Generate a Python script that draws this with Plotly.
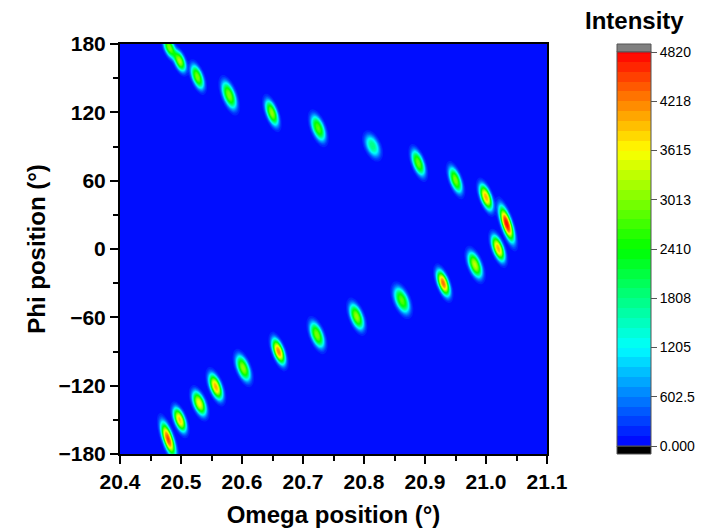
import numpy as np
import plotly.graph_objects as go

# Peak list (omega in deg, phi in deg, intensity in counts)
peak_omega = [20.481, 20.498, 20.527, 20.579, 20.649, 20.725, 20.814, 20.889, 20.950, 21.000,
              21.034, 21.020, 20.982, 20.930, 20.862, 20.788, 20.723, 20.660, 20.602, 20.557,
              20.530, 20.498, 20.479]
peak_phi = [177.0, 165.0, 151.0, 135.0, 119.5, 106.0, 90.5, 75.5, 60.5, 45.5,
            22.0, 0.5, -14.0, -30.0, -45.0, -59.5, -75.5, -90.0, -104.5, -121.0,
            -135.5, -150.0, -167.0]
peak_height = [3000, 3200, 3000, 3000, 3100, 2800, 1800, 2900, 3000, 4000,
               4800, 4000, 3300, 4300, 2800, 3100, 3000, 4200, 3100, 4000,
               3600, 3900, 4500]
peak_phi_width = [6.5, 6.5, 7.5, 8.5, 8.0, 8.0, 7.0, 8.0, 8.0, 8.0,
                  11.0, 8.0, 8.0, 8.0, 8.0, 8.0, 8.0, 8.0, 8.0, 8.0,
                  7.5, 7.5, 10.5]
peak_omega_width = [0.0058, 0.0060, 0.0062, 0.0070, 0.0062, 0.0070, 0.0078, 0.0064, 0.0062, 0.0062,
                    0.0060, 0.0062, 0.0070, 0.0062, 0.0078, 0.0070, 0.0070, 0.0062, 0.0070, 0.0066,
                    0.0068, 0.0062, 0.0060]
background_level = 20.0
tilt = -0.00056  # omega shift per degree of phi
shape_power = 2.6  # flat-topped peak profile

level_start, level_end, level_step = 0.0, 4820.0, 120.5
cbar_ticks = [0, 602.5, 1205, 1808, 2410, 3013, 3615, 4218, 4820]
cbar_text = ["0.000", "602.5", "1205", "1808", "2410", "3013", "3615", "4218", "4820"]

omega = np.arange(20.4, 21.1 + 1e-9, 0.0025)
phi = np.arange(-180, 180 + 1e-9, 1.5)
W, P = np.meshgrid(omega, phi)
Z = np.full_like(W, background_level)
for w0, p0, h, sp, sw in zip(peak_omega, peak_phi, peak_height, peak_phi_width, peak_omega_width):
    dp = P - p0
    dw = W - w0 - tilt * dp
    r = np.sqrt((dp / sp) ** 2 + (dw / sw) ** 2)
    Z += h * np.exp(-0.5 * r ** shape_power)

colorscale = [
    [0.0, "rgb(0,0,255)"],
    [0.25, "rgb(0,255,255)"],
    [0.5, "rgb(0,255,0)"],
    [0.75, "rgb(255,255,0)"],
    [1.0, "rgb(255,0,0)"],
]

OFF = 8  # page body margin in the browser
W_px, H_px = 709, 531
L, T = 120 - OFF, 44 - OFF
pw, ph = 427, 410
R = W_px - L - pw
B = H_px - T - ph

cb_left, cb_right = 617 - OFF, 651 - OFF
cb_x = (cb_left - L) / pw
cb_x1 = (cb_right - L) / pw

fig = go.Figure(go.Contour(
    x=omega, y=phi, z=Z,
    colorscale=colorscale, zmin=level_start, zmax=level_end,
    contours=dict(start=level_start, end=level_end, size=level_step, coloring="fill"),
    line=dict(width=0),
    colorbar=dict(
        x=cb_x, xanchor="left", xpad=0, ypad=0,
        y=0.5, yanchor="middle", len=394, lenmode="pixels",
        thickness=cb_right - cb_left,
        outlinewidth=1, outlinecolor="#555",
        tickvals=cbar_ticks, ticktext=cbar_text,
        ticks="outside", ticklen=6, tickcolor="#555",
        tickfont=dict(family="Liberation Sans", size=14, color="black"),
    ),
))

axis_font = dict(family="Liberation Sans", size=21, color="black", weight="bold")
title_font = dict(family="Liberation Sans", size=24, color="black", weight="bold")

fig.update_xaxes(
    range=[20.4, 21.1], dtick=0.1, tick0=20.4, tickformat=".1f",
    ticks="outside", ticklen=8, tickwidth=2, tickcolor="black",
    showline=True, linewidth=2, linecolor="black", mirror=True,
    showgrid=False, zeroline=False,
    minor=dict(dtick=0.05, ticks="outside", ticklen=5, tickwidth=2, tickcolor="black"),
    tickfont=axis_font,
    title=dict(text="Omega position (°)", font=title_font, standoff=14),
)
fig.update_yaxes(
    range=[-180, 180], dtick=60, tick0=0,
    ticks="outside", ticklen=8, tickwidth=2, tickcolor="black",
    showline=True, linewidth=2, linecolor="black", mirror=True,
    showgrid=False, zeroline=False,
    minor=dict(dtick=30, ticks="outside", ticklen=5, tickwidth=2, tickcolor="black"),
    tickfont=axis_font,
    title=dict(text="Phi position (°)", font=title_font, standoff=6),
)

# over/under range blocks of the colour bar
fig.add_shape(type="rect", xref="paper", yref="paper",
              x0=cb_x, x1=cb_x1, y0=(454 - 52) / ph, y1=1.0,
              fillcolor="rgb(128,128,128)", line=dict(color="#555", width=1))
fig.add_shape(type="rect", xref="paper", yref="paper",
              x0=cb_x, x1=cb_x1, y0=0.0, y1=(454 - 446) / ph,
              fillcolor="black", line=dict(color="#555", width=1))

fig.add_annotation(text="<b>Intensity</b>", xref="paper", yref="paper",
                   x=(634 - OFF - L) / pw, y=(454 - 21) / ph, xanchor="center", yanchor="middle",
                   showarrow=False,
                   font=dict(family="Liberation Sans", size=24, color="black"))

fig.update_layout(
    width=W_px, height=H_px,
    margin=dict(l=L, r=R, t=T, b=B),
    paper_bgcolor="white", plot_bgcolor="white",
    showlegend=False,
)

fig.write_html("out.html")
